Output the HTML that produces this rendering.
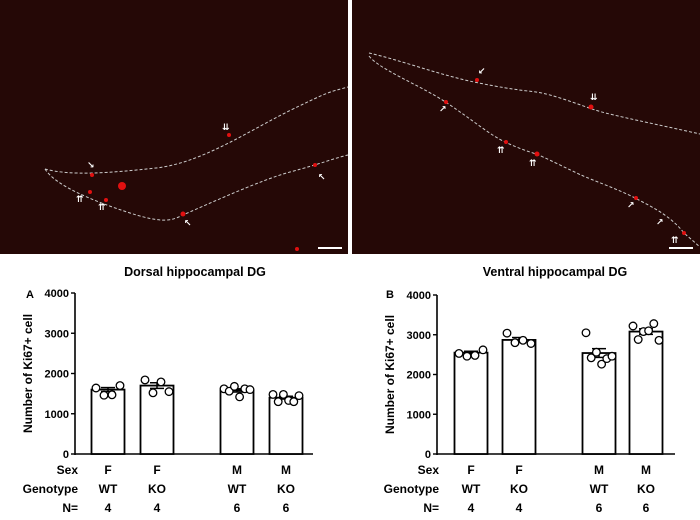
<!DOCTYPE html>
<html><head><meta charset="utf-8"><style>
body{margin:0;background:#fff;width:700px;height:515px;overflow:hidden;font-family:"Liberation Sans",Arial,sans-serif}
svg text{font-family:"Liberation Sans",Arial,sans-serif;font-weight:bold;fill:#000}
svg text.arr{fill:#fff;font-family:"DejaVu Sans",sans-serif;font-weight:bold}
</style></head><body>
<svg id="fig" width="700" height="515" viewBox="0 0 700 515">
<g>
<rect x="0" y="0" width="348" height="254" fill="#250806"/>
<path d="M45,169 C70,176 110,173 156,168 S250,130 291,110 S330,92 348,87" fill="none" stroke="#ccc" stroke-width="1" stroke-dasharray="3,2"/>
<path d="M45,169 C55,185 90,200 130,213 S175,218 185,214 S260,180 290,172 S335,158 348,155" fill="none" stroke="#ccc" stroke-width="1" stroke-dasharray="3,2"/>
<g fill="#e01010"><circle cx="122" cy="186" r="4"/><circle cx="92" cy="175" r="2"/><circle cx="90" cy="192" r="2"/><circle cx="106" cy="200" r="2"/><circle cx="183" cy="214" r="2.5"/><circle cx="229" cy="135" r="2"/><circle cx="315" cy="165" r="2"/><circle cx="297" cy="249" r="2"/></g>
<g font-size="9"><text class="arr" x="87" y="168">↘</text><text class="arr" x="222" y="130">⇊</text><text class="arr" x="318" y="180">↖</text><text class="arr" x="76" y="202">⇈</text><text class="arr" x="98" y="210">⇈</text><text class="arr" x="184" y="226">↖</text></g>
<rect x="318" y="247" width="24" height="2" fill="#fff"/>
</g>
<g>
<rect x="352" y="0" width="348" height="254" fill="#250806"/>
<path d="M369,53 C400,60 440,75 474,82 S520,90 536,92 S580,105 595,110 S660,125 700,134" fill="none" stroke="#ccc" stroke-width="1" stroke-dasharray="3,2"/>
<path d="M369,56 C380,70 420,85 447,103 S490,135 505,142 S530,152 536,154 S570,170 581,175 S620,190 635,198 S670,215 684,233 L700,247" fill="none" stroke="#ccc" stroke-width="1" stroke-dasharray="3,2"/>
<g fill="#e01010"><circle cx="477" cy="80" r="2"/><circle cx="446" cy="102" r="2"/><circle cx="591" cy="107" r="2.5"/><circle cx="506" cy="142" r="2"/><circle cx="537" cy="154" r="2.5"/><circle cx="636" cy="198" r="2"/><circle cx="684" cy="233" r="2"/></g>
<g font-size="9"><text class="arr" x="478" y="74">↙</text><text class="arr" x="439" y="112">↗</text><text class="arr" x="590" y="100">⇊</text><text class="arr" x="497" y="153">⇈</text><text class="arr" x="529" y="166">⇈</text><text class="arr" x="627" y="208">↗</text><text class="arr" x="656" y="225">↗</text><text class="arr" x="671" y="243">⇈</text></g>
<rect x="669" y="247" width="24" height="2" fill="#fff"/>
</g>
</svg>
<script>
const categories = ["F WT","F KO","M WT","M KO"];
const sexLabels = ["F","F","M","M"];
const genoLabels = ["WT","KO","WT","KO"];
const nLabels = ["4","4","6","6"];
const yTicks = [0,1000,2000,3000,4000];
const dorsalMeans = [1600,1700,1580,1400];
const dorsalSem = [50,70,40,35];
const dorsalPoints = [[1640,1460,1470,1700],[1840,1520,1790,1550],[1620,1560,1680,1420,1620,1600],[1480,1300,1480,1330,1300,1450]];
const ventralMeans = [2550,2870,2540,3080];
const ventralSem = [35,60,110,70];
const ventralPoints = [[2530,2460,2480,2620],[3040,2800,2860,2780],[3050,2420,2560,2260,2400,2460],[3220,2880,3080,3100,3280,2860]];

const NS="http://www.w3.org/2000/svg";
const svg=document.getElementById('fig');
function mk(tag,attrs,parent){const e=document.createElementNS(NS,tag);for(const k in attrs)e.setAttribute(k,attrs[k]);(parent||svg).appendChild(e);return e;}

function chart(cfg){
  const g=mk('g',{});
  
  
  const y=v=>cfg.y0-(v/4000)*(cfg.y0-cfg.y4);
  const t=mk('text',{x:cfg.titleX,y:276,'font-size':12.5,'text-anchor':'middle'},g);t.textContent=cfg.title;
  
  
  const pl=mk('text',{x:cfg.panelX,y:298,'font-size':11},g);pl.textContent=cfg.panel;
  
  
  const yl=mk('text',{x:0,y:0,'font-size':12,'text-anchor':'middle',transform:`translate(${cfg.axX-43},${(cfg.y0+cfg.y4)/2}) rotate(-90)`},g);yl.textContent="Number of Ki67+ cell";
  
  
  mk('line',{x1:cfg.axX,y1:cfg.y4,x2:cfg.axX,y2:cfg.y0+1,stroke:'#000','stroke-width':1.6},g);
  mk('line',{x1:cfg.axX,y1:cfg.y0,x2:cfg.axEnd,y2:cfg.y0,stroke:'#000','stroke-width':1.6},g);
  yTicks.forEach(v=>{
    mk('line',{x1:cfg.axX-4,y1:y(v),x2:cfg.axX,y2:y(v),stroke:'#000','stroke-width':1.4},g);
    const tx=mk('text',{x:cfg.axX-6,y:y(v)+4,'font-size':11,'text-anchor':'end'},g);tx.textContent=v;
    
    
  });
  const bw=33;
  cfg.means.forEach((m,i)=>{
    const cx=cfg.barX[i];
    const b=mk('rect',{x:cx-bw/2,y:y(m),width:bw,height:cfg.y0-y(m),fill:'#fff',stroke:'#000','stroke-width':1.8},g);
    
    
    mk('line',{x1:cx,y1:y(m-cfg.sem[i]),x2:cx,y2:y(m+cfg.sem[i]),stroke:'#000','stroke-width':1.5},g);
    mk('line',{x1:cx-7,y1:y(m+cfg.sem[i]),x2:cx+7,y2:y(m+cfg.sem[i]),stroke:'#000','stroke-width':1.5},g);
    mk('line',{x1:cx-7,y1:y(m-cfg.sem[i]),x2:cx+7,y2:y(m-cfg.sem[i]),stroke:'#000','stroke-width':1.5},g);
    const pts=cfg.points[i],n=pts.length,span=(n===4?24:26);
    pts.forEach((v,j)=>{
      const px=cx-span/2+span*j/(n-1);
      const c=mk('circle',{cx:px,cy:y(v),r:3.8,fill:'#fff',stroke:'#000','stroke-width':1.3},g);
      
      
    });
    [[sexLabels,470],[genoLabels,489],[nLabels,508]].forEach(([arr,yy])=>{
      const tx=mk('text',{x:cx,y:yy+4,'font-size':12,'text-anchor':'middle'},g);tx.textContent=arr[i];
      
      
    });
  });
  [["Sex",470],["Genotype",489],["N=",508]].forEach(([s,yy])=>{
    const tx=mk('text',{x:cfg.rowX,y:yy+4,'font-size':12,'text-anchor':'end'},g);tx.textContent=s;
    
    
  });
}
chart({name:'chart-dorsal',title:'Dorsal hippocampal DG',titleX:195,panel:'A',panelX:26,axX:75,axEnd:313,y0:454,y4:293,barX:[108,157,237,286],means:dorsalMeans,sem:dorsalSem,points:dorsalPoints,rowX:78});
chart({name:'chart-ventral',title:'Ventral hippocampal DG',titleX:555,panel:'B',panelX:386,axX:437,axEnd:675,y0:454,y4:295,barX:[471,519,599,646],means:ventralMeans,sem:ventralSem,points:ventralPoints,rowX:439});
</script>
</body></html>
